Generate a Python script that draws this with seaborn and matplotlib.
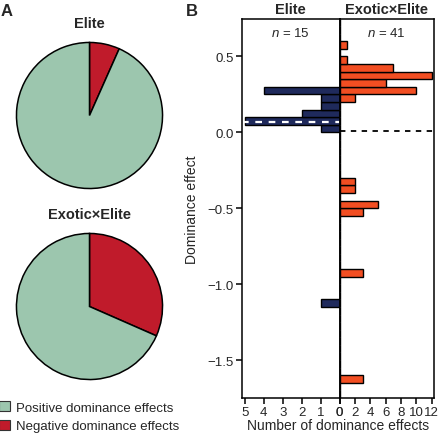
import numpy as np
import pandas as pd
import matplotlib
matplotlib.use("Agg")
import matplotlib.pyplot as plt
from matplotlib.patches import Patch
import seaborn as sns

# -----------------------------------------------------
# Datos: efectos de dominancia (centro del intervalo) y cuantos hay
# -----------------------------------------------------
elite_effect = [0.275, 0.225, 0.175, 0.125, 0.075, 0.025, -1.125]
elite_count = [4, 1, 1, 2, 5, 1, 1]

exotic_effect = [0.575, 0.475, 0.425, 0.375, 0.325, 0.275, 0.225,
                 -0.325, -0.375, -0.475, -0.525, -0.925, -1.625]
exotic_count = [1, 1, 7, 12, 6, 10, 2, 2, 2, 5, 3, 3, 3]

groups = ["Elite", "Exotic×Elite"]
n_labels = ["15", "41"]
legend_labels = ["Positive dominance effects", "Negative dominance effects"]

c_pos = "#9cc6ae"
c_neg = "#c01b2b"
c_elite = "#1f2a5c"
c_exotic = "#f24e22"

sns.set_theme(style="ticks")
plt.rcParams["font.family"] = ["Liberation Sans", "DejaVu Sans"]
plt.rcParams["mathtext.fontset"] = "custom"
plt.rcParams["mathtext.it"] = "Liberation Sans:italic"
plt.rcParams["mathtext.rm"] = "Liberation Sans"

W, H = 440, 439
fig = plt.figure(figsize=(W / 100, H / 100), dpi=100)


def box(x0, y0, x1, y1):
    # pixeles -> fraccion de figura
    return [x0 / W, 1 - y1 / H, (x1 - x0) / W, (y1 - y0) / H]


# =====================================================
# A: tartas
# =====================================================
pie_centers = [116.5, 307.5]
title_y = [24, 215]
for (effect, count), cy, ty, name in zip(
        [(elite_effect, elite_count), (exotic_effect, exotic_count)],
        pie_centers, title_y, groups):
    effect = np.array(effect)
    count = np.array(count)
    neg = count[effect < 0].sum()
    pos = count[effect > 0].sum()
    r = 74.5
    ax = fig.add_axes(box(89.5 - r, cy - r, 89.5 + r, cy + r))
    ax.pie([neg, pos], colors=[c_neg, c_pos], startangle=90, counterclock=False,
           wedgeprops=dict(edgecolor="black", linewidth=1.1))
    ax.set_xlim(-1.02, 1.02)
    ax.set_ylim(-1.02, 1.02)
    fig.text(89.5 / W, 1 - ty / H, name, ha="center", va="center",
             fontsize=10.5, fontweight="bold")

handles = [Patch(facecolor=c_pos, edgecolor="#333333", linewidth=0.8),
           Patch(facecolor=c_neg, edgecolor="#333333", linewidth=0.8)]
fig.legend(handles, legend_labels, loc="upper left", bbox_to_anchor=(-0.002, 1 - 402 / H),
           frameon=False, fontsize=9.5, handlelength=0.8, handleheight=0.8,
           handletextpad=0.5, labelspacing=0.45, borderaxespad=0, borderpad=0)

fig.text(1 / W, 1 - 12 / H, "A", fontsize=12, fontweight="bold", va="center")
fig.text(186 / W, 1 - 12 / H, "B", fontsize=12, fontweight="bold", va="center")

# =====================================================
# B: histogramas horizontales
# =====================================================
df_elite = pd.DataFrame({"effect": elite_effect, "count": elite_count})
df_exotic = pd.DataFrame({"effect": exotic_effect, "count": exotic_count})

ax_l = fig.add_axes(box(242, 19.5, 339.5, 399))
ax_r = fig.add_axes(box(339.5, 19.5, 434, 399), sharey=ax_l)

sns.histplot(data=df_elite, y="effect", weights="count", binwidth=0.05,
             binrange=(-1.75, 0.75), ax=ax_l, color=c_elite,
             edgecolor="black", linewidth=1, alpha=1)
sns.histplot(data=df_exotic, y="effect", weights="count", binwidth=0.05,
             binrange=(-1.75, 0.75), ax=ax_r, color=c_exotic,
             edgecolor="black", linewidth=1, alpha=1)

# media de cada grupo como linea discontinua
m_elite = np.average(elite_effect, weights=elite_count)
m_exotic = np.average(exotic_effect, weights=exotic_count)
ax_l.axhline(m_elite, color="white", linestyle=(0, (3, 3)), linewidth=1.6)
ax_r.axhline(m_exotic, color="black", linestyle=(0, (3, 3)), linewidth=1.3)

ax_l.set_xlim(5.15, 0)
ax_r.set_xlim(0, 12.3)
ax_l.set_ylim(-1.75, 0.75)
ax_l.set_xticks([5, 4, 3, 2, 1, 0])
ax_r.set_xticks([0, 2, 4, 6, 8, 10, 12])
ax_l.set_yticks([0.5, 0.0, -0.5, -1.0, -1.5])
ax_l.set_yticklabels(["0.5", "0.0", "\u22120.5", "\u22121.0", "\u22121.5"])
ax_r.tick_params(axis="y", left=False, labelleft=False)
ax_r.set_xticklabels(["0", "2", "4", "6", "8", "10", "12"])

for ax in (ax_l, ax_r):
    ax.set_xlabel("")
    ax.set_ylabel("")
    for s in ax.spines.values():
        s.set_visible(True)
        s.set_linewidth(1.1)
        s.set_color("black")
    ax.tick_params(axis="both", direction="out", length=4, width=1.1,
                   labelsize=9.5, pad=2, color="black")
    ax.set_facecolor("white")

ax_l.set_ylabel("Dominance effect", fontsize=10, labelpad=6)

for ax, name, n in zip((ax_l, ax_r), groups, n_labels):
    ax.text(0.5, 1.026, name, transform=ax.transAxes, ha="center", va="center",
            fontsize=10.5, fontweight="bold")
    ax.text(0.5, 0.964, "$n$ = " + n, transform=ax.transAxes, ha="center",
            va="center", fontsize=9.5)

fig.text(338 / W, 1 - 426 / H, "Number of dominance effects", ha="center",
         va="center", fontsize=10)

fig.savefig("out.png", dpi=100)
